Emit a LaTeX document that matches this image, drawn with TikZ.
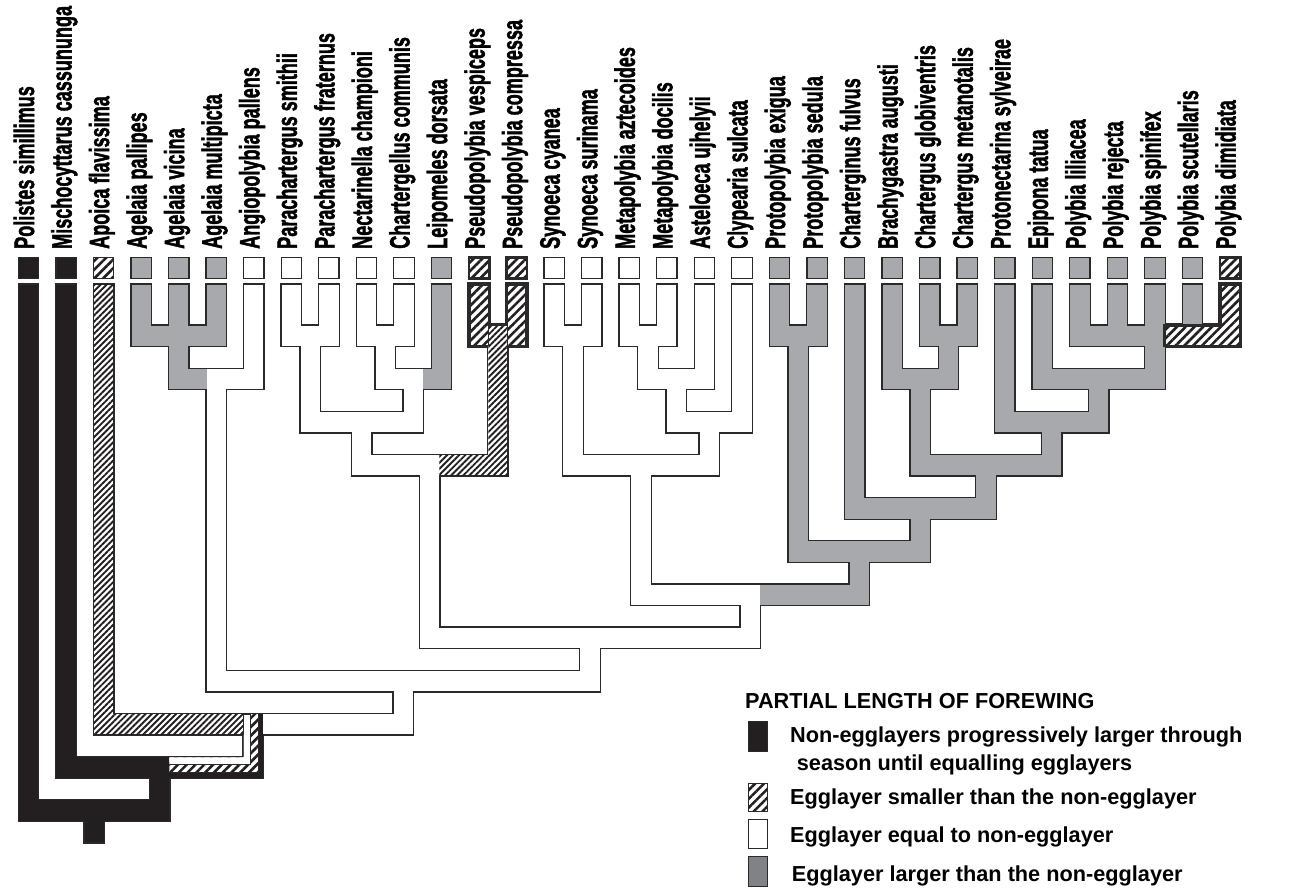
\documentclass[tikz,border=0pt]{standalone}
\usepackage{fontspec}
\setmainfont{Liberation Sans}
\newfontfamily\taxfont{Liberation Sans}[BoldFeatures={FakeBold=2}]
\usepackage{graphicx}
\usetikzlibrary{patterns.meta}

\definecolor{ink}{HTML}{231F20}
\definecolor{edge}{HTML}{2A2A2A}
\definecolor{branchgray}{HTML}{A7A9AC}
\definecolor{keygray}{HTML}{808285}

% branch geometry (units are pixels, y grows downwards)
\newcommand\hw{9.6}    % half width of a branch fill
\newcommand\ee{0.65}   % inset of a bar fill from its level lines
\newcommand\ytip{284.6}% top of the terminal branches
\newcommand\on{1.3}    % normal outline
\newcommand\ob{2.4}    % bold outline

\tikzset{
  tblack/.style={fill=ink},
  tgray/.style={fill=branchgray},
  twhite/.style={fill=white},
  hfine/.style={fill=white, postaction={pattern={Lines[angle=45,distance=4.3pt,line width=1.9pt]}, pattern color=ink}},
  hcoarse/.style={fill=white, postaction={pattern={Lines[angle=45,distance=6.2pt,line width=2.6pt]}, pattern color=ink}},
  taxon/.style={rotate=90, anchor=base west, inner sep=0pt, font=\taxfont\fontsize{28}{28}\selectfont\bfseries},
  keytext/.style={anchor=base west, inner sep=0pt, font=\fontsize{21.7}{26}\selectfont\bfseries},
}

% one rectangular piece of a thick branch; redefined for each drawing pass
\newcommand\wPiece[6]{}
% terminal branch of column #2 down to the bottom of level #3
\newcommand\wTip[4][\on]{\wPiece{cx(#2)-\hw}{\ytip}{cx(#2)+\hw}{lv(#3+1)-\ee}{#4}{#1}}
% horizontal bar from column #2 to column #3 at level #4
\newcommand\wBar[5][\on]{\wPiece{cx(#2)-\hw}{lv(#4)+\ee}{cx(#3)+\hw}{lv(#4+1)-\ee}{#5}{#1}}
% stem at column #1 from the bar of level #2 to the bar of level #3
\newcommand\wStem[4]{\wPiece{cx(#1)-\hw}{lv(#2+1)-\ee}{cx(#1)+\hw}{lv(#3+1)-\ee}{#4}{\on}}
% bar in three colours: left part, stem part, right part
\newcommand\wSplit[7]{%
  \wPiece{cx(#1)-\hw}{lv(#4)+\ee}{cx(#3)-\hw}{lv(#4+1)-\ee}{#5}{\on}%
  \wPiece{cx(#3)-\hw}{lv(#4)+\ee}{cx(#3)+\hw}{lv(#4+1)-\ee}{#6}{\on}%
  \wPiece{cx(#3)+\hw}{lv(#4)+\ee}{cx(#2)+\hw}{lv(#4+1)-\ee}{#7}{\on}}

\newcommand\wTree{%
  % outgroups
  \wTip{0}{23}{tblack}
  \wTip{1}{21}{tblack}
  \wTip{2}{19}{hfine}
  % Agelaia + Angiopolybia
  \wTip{3}{1}{tgray}\wTip{4}{1}{tgray}\wTip{5}{1}{tgray}
  \wBar{3}{5}{1}{tgray}
  \wStem{4}{1}{3}{tgray}
  \wTip{6}{3}{twhite}
  \wSplit{4}{6}{5}{3}{tgray}{twhite}{twhite}
  \wStem{5}{3}{17}{twhite}
  % Parachartergus, Nectarinella, Chartergellus, Leipomeles
  \wTip{7}{1}{twhite}\wTip{8}{1}{twhite}
  \wBar{7}{8}{1}{twhite}
  \wStem{7.5}{1}{5}{twhite}
  \wTip{9}{1}{twhite}\wTip{10}{1}{twhite}
  \wBar{9}{10}{1}{twhite}
  \wStem{9.5}{1}{3}{twhite}
  \wTip{11}{3}{tgray}
  \wSplit{9.5}{11}{10.25}{3}{twhite}{twhite}{tgray}
  \wStem{10.25}{3}{5}{twhite}
  \wBar{7.5}{10.25}{5}{twhite}
  \wStem{8.875}{5}{7}{twhite}
  % Pseudopolybia
  \wTip[\ob]{12}{1}{hcoarse}\wTip[\ob]{13}{1}{hcoarse}
  \wBar[\ob]{12}{13}{1}{hcoarse}
  \wStem{12.5}{1}{7}{hfine}
  \wSplit{8.875}{12.5}{10.6875}{7}{twhite}{twhite}{hfine}
  \wStem{10.6875}{7}{15}{twhite}
  % Synoeca, Metapolybia, Asteloeca, Clypearia
  \wTip{14}{1}{twhite}\wTip{15}{1}{twhite}
  \wBar{14}{15}{1}{twhite}
  \wStem{14.5}{1}{7}{twhite}
  \wTip{16}{1}{twhite}\wTip{17}{1}{twhite}
  \wBar{16}{17}{1}{twhite}
  \wStem{16.5}{1}{3}{twhite}
  \wTip{18}{3}{twhite}
  \wBar{16.5}{18}{3}{twhite}
  \wStem{17.25}{3}{5}{twhite}
  \wTip{19}{5}{twhite}
  \wBar{17.25}{19}{5}{twhite}
  \wStem{18.125}{5}{7}{twhite}
  \wBar{14.5}{18.125}{7}{twhite}
  \wStem{16.3125}{7}{13}{twhite}
  % Protopolybia to Polybia
  \wTip{20}{1}{tgray}\wTip{21}{1}{tgray}
  \wBar{20}{21}{1}{tgray}
  \wStem{20.5}{1}{11}{tgray}
  \wTip{22}{9}{tgray}
  \wTip{23}{3}{tgray}
  \wTip{24}{1}{tgray}\wTip{25}{1}{tgray}
  \wBar{24}{25}{1}{tgray}
  \wStem{24.5}{1}{3}{tgray}
  \wBar{23}{24.5}{3}{tgray}
  \wStem{23.75}{3}{7}{tgray}
  \wTip{26}{5}{tgray}
  \wTip{27}{3}{tgray}
  \wTip{28}{1}{tgray}\wTip{29}{1}{tgray}\wTip{30}{1}{tgray}
  \wPiece{cx(31)-\hw}{\ytip}{cx(31)+\hw}{lv(1)+\ee}{tgray}{\on}
  \wBar{28}{30}{1}{tgray}
  \wPiece{cx(30)+\hw}{lv(1)+\ee}{cx(32)+\hw}{lv(2)-\ee}{hcoarse}{\ob}
  \wTip[\ob]{32}{1}{hcoarse}
  \wStem{30}{1}{3}{tgray}
  \wBar{27}{30}{3}{tgray}
  \wStem{28.5}{3}{5}{tgray}
  \wBar{26}{28.5}{5}{tgray}
  \wStem{27.25}{5}{7}{tgray}
  \wBar{23.75}{27.25}{7}{tgray}
  \wStem{25.5}{7}{9}{tgray}
  \wBar{22}{25.5}{9}{tgray}
  \wStem{23.75}{9}{11}{tgray}
  \wBar{20.5}{23.75}{11}{tgray}
  \wStem{22.125}{11}{13}{tgray}
  % deeper nodes
  \wSplit{16.3125}{22.125}{19.21875}{13}{twhite}{twhite}{tgray}
  \wStem{19.21875}{13}{15}{twhite}
  \wBar{10.6875}{19.21875}{15}{twhite}
  \wStem{14.953125}{15}{17}{twhite}
  \wBar{5}{14.953125}{17}{twhite}
  \wStem{9.9765625}{17}{19}{twhite}
  \wSplit{2}{9.9765625}{5.98828125}{19}{hfine}{tblack}{twhite}
  \wStem{5.98828125}{19}{21}{tblack}
  \wSplit{1}{5.98828125}{3.494140625}{21}{tblack}{tblack}{tblack}
  \wStem{3.494140625}{21}{23}{tblack}
  \wBar{0}{3.494140625}{23}{tblack}
  \wStem{1.7470703125}{23}{24}{tblack}%
}

% coloured box above each terminal branch
\newcommand\wBox[3][1.3]{%
  \fill[#3] ({cx(#2)-10.2},257.5) rectangle ({cx(#2)+10.2},278.5);
  \draw[edge,line width=#1] ({cx(#2)-10.2},257.5) rectangle ({cx(#2)+10.2},278.5);}
\newcommand\wTaxon[2]{\node[taxon] (taxon#1) at ({cx(#1)+5.5},249) {\scalebox{0.645}[1]{#2}};}

\begin{document}
\begin{tikzpicture}[x=1pt,y=-1pt,
  declare function={cx(\i)=28.5+37.55*\i; lv(\k)=303.42+21.58*\k;}]
\useasboundingbox (0,0) rectangle (1301,890);
\fill[white] (0,0) rectangle (1301,890);

% pass 1: outlines
\def\wPiece#1#2#3#4#5#6{\fill[edge] ({#1-#6},{#2-#6}) rectangle ({#3+#6},{#4+#6});}
\wTree
% pass 2: fills
\def\wPiece#1#2#3#4#5#6{\fill[#5] ({#1},{#2}) rectangle ({#3},{#4});}
\wTree

% bold border of the Pseudopolybia bar
\draw[edge, line width=2.4] ({cx(12)-\hw},\ytip) -- ({cx(12)+\hw},\ytip) -- ({cx(12)+\hw},{lv(1)+\ee})
  -- ({cx(13)-\hw},{lv(1)+\ee}) -- ({cx(13)-\hw},\ytip) -- ({cx(13)+\hw},\ytip)
  -- ({cx(13)+\hw},{lv(2)-\ee}) -- ({cx(12)-\hw},{lv(2)-\ee}) -- cycle;
\fill[hfine] ({cx(12.5)-\hw},{lv(1)+\ee}) rectangle ({cx(12.5)+\hw},{lv(2)+1.5});
\draw[edge, line width=1] ({cx(12.5)-\hw},{lv(2)-\ee}) -- ({cx(12.5)-\hw},{lv(1)+\ee})
  -- ({cx(12.5)+\hw},{lv(1)+\ee}) -- ({cx(12.5)+\hw},{lv(2)-\ee});
% bold border of the Polybia hatched bar
\draw[edge, line width=2.4] ({cx(30)+\hw},{lv(1)+\ee}) -- ({cx(32)-\hw},{lv(1)+\ee}) -- ({cx(32)-\hw},\ytip)
  -- ({cx(32)+\hw},\ytip) -- ({cx(32)+\hw},{lv(2)-\ee}) -- ({cx(30)+\hw},{lv(2)-\ee}) -- cycle;

% banded branch below Apoica's sister group
\pgfmathsetmacro\bL{cx(5.98828125)-\hw}
\pgfmathsetmacro\bR{cx(5.98828125)+\hw}
\pgfmathsetmacro\bT{lv(19)+\ee}
\pgfmathsetmacro\bU{lv(21)+\ee}
\pgfmathsetmacro\bD{lv(22)-\ee}
\pgfmathsetmacro\bX{cx(3.494140625)+\hw}
\fill[hcoarse] (\bL,\bT) -- ({\bR-4.4},\bT) -- ({\bR-4.4},{\bD-4.9}) -- (\bX,{\bD-4.9}) -- (\bX,\bU) -- (\bL,\bU) -- cycle;
\draw[edge, line width=0.9] ({\bR-4.4},\bT) -- ({\bR-4.4},{\bD-4.9}) -- (\bX,{\bD-4.9});
\fill[white] (\bL,\bT) -- ({\bL+6.5},\bT) -- ({\bL+6.5},{\bU+7}) -- (\bX,{\bU+7}) -- (\bX,\bU) -- (\bL,\bU) -- cycle;
\draw[edge, line width=0.9] (\bL,\bT) -- ({\bL+6.5},\bT) -- ({\bL+6.5},{\bU+7}) -- (\bX,{\bU+7});
\draw[edge, line width=0.9] (\bL,\bT) -- (\bL,{lv(20)});

% terminal boxes
\wBox{0}{tblack}\wBox{1}{tblack}\wBox{2}{hcoarse}
\wBox{3}{tgray}\wBox{4}{tgray}\wBox{5}{tgray}
\wBox{6}{twhite}\wBox{7}{twhite}\wBox{8}{twhite}\wBox{9}{twhite}\wBox{10}{twhite}
\wBox{11}{tgray}
\wBox[2.4]{12}{hcoarse}\wBox[2.4]{13}{hcoarse}
\wBox{14}{twhite}\wBox{15}{twhite}\wBox{16}{twhite}\wBox{17}{twhite}\wBox{18}{twhite}\wBox{19}{twhite}
\foreach \i in {20,...,31} {\wBox{\i}{tgray}}
\wBox[2.4]{32}{hcoarse}

% taxon names
\wTaxon{0}{Polistes simillimus}
\wTaxon{1}{Mischocyttarus cassununga}
\wTaxon{2}{Apoica flavissima}
\wTaxon{3}{Agelaia pallipes}
\wTaxon{4}{Agelaia vicina}
\wTaxon{5}{Agelaia multipicta}
\wTaxon{6}{Angiopolybia pallens}
\wTaxon{7}{Parachartergus smithii}
\wTaxon{8}{Parachartergus fraternus}
\wTaxon{9}{Nectarinella championi}
\wTaxon{10}{Chartergellus communis}
\wTaxon{11}{Leipomeles dorsata}
\wTaxon{12}{Pseudopolybia vespiceps}
\wTaxon{13}{Pseudopolybia compressa}
\wTaxon{14}{Synoeca cyanea}
\wTaxon{15}{Synoeca surinama}
\wTaxon{16}{Metapolybia aztecoides}
\wTaxon{17}{Metapolybia docilis}
\wTaxon{18}{Asteloeca ujhelyii}
\wTaxon{19}{Clypearia sulcata}
\wTaxon{20}{Protopolybia exigua}
\wTaxon{21}{Protopolybia sedula}
\wTaxon{22}{Charterginus fulvus}
\wTaxon{23}{Brachygastra augusti}
\wTaxon{24}{Chartergus globiventris}
\wTaxon{25}{Chartergus metanotalis}
\wTaxon{26}{Protonectarina sylveirae}
\wTaxon{27}{Epipona tatua}
\wTaxon{28}{Polybia liliacea}
\wTaxon{29}{Polybia rejecta}
\wTaxon{30}{Polybia spinifex}
\wTaxon{31}{Polybia scutellaris}
\wTaxon{32}{Polybia dimidiata}

% key
\node[keytext] (keytitle) at (745,708.3) {PARTIAL LENGTH OF FOREWING};
\fill[tblack] (748.3,721.7) rectangle (767.3,751.7);
\draw[edge, line width=1.2] (748.3,721.7) rectangle (767.3,751.7);
\node[keytext] (keyblack) at (790,742) {Non-egglayers progressively larger through};
\node[keytext] (keyblackb) at (796.7,770) {season until equalling egglayers};
\fill[hcoarse] (748.3,783.3) rectangle (767.3,811.7);
\draw[edge, line width=1.2] (748.3,783.3) rectangle (767.3,811.7);
\node[keytext] (keyhatch) at (790,804) {Egglayer smaller than the non-egglayer};
\fill[twhite] (748.3,819.3) rectangle (767.3,848.3);
\draw[edge, line width=1.2] (748.3,819.3) rectangle (767.3,848.3);
\node[keytext] (keywhite) at (790,842) {Egglayer equal to non-egglayer};
\fill[keygray] (748.3,856.7) rectangle (767.3,886.7);
\draw[edge, line width=1.2] (748.3,856.7) rectangle (767.3,886.7);
\node[keytext] (keygray) at (791.7,881) {Egglayer larger than the non-egglayer};
\end{tikzpicture}
\end{document}
